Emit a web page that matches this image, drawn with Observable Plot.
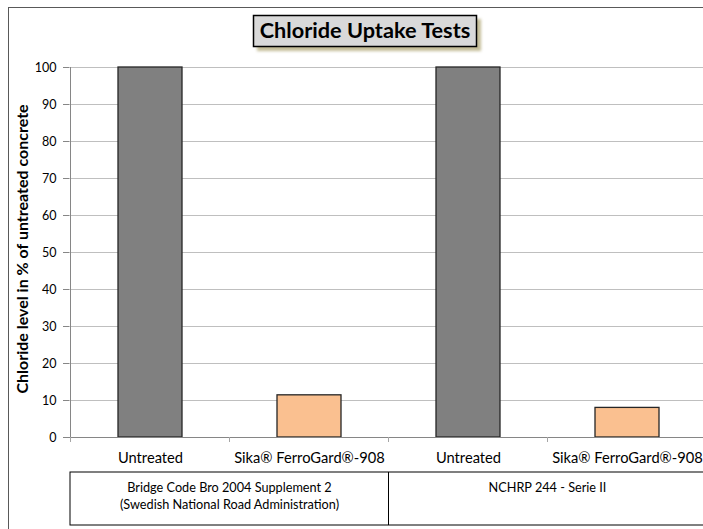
<!DOCTYPE html>
<html><head><meta charset="utf-8">
<script src="https://cdn.jsdelivr.net/npm/d3@7"></script>
<script src="https://cdn.jsdelivr.net/npm/@observablehq/plot@0.6"></script>
<style>
html,body{margin:0;padding:0;background:#fff;overflow:hidden;width:703px;height:529px;}
#chart{position:absolute;left:0;top:0;}
#chart svg{max-width:none !important;}
</style></head><body><div id="chart"></div>
<script>
// ---- data ----
const title = "Chloride Uptake Tests";
const yLabel = "Chloride level in % of untreated concrete";
const groups = ["Bridge Code Bro 2004 Supplement 2\n(Swedish National Road Administration)", "NCHRP 244 - Serie II"];
const treatments = ["Untreated", "Sika® FerroGard®-908"];
const broValues = [100, 11.4];
const nchrpValues = [100, 8];
const yTicks = [0, 10, 20, 30, 40, 50, 60, 70, 80, 90, 100];
const colors = ["#808080", "#fac090"];

const rows = [];
[broValues, nchrpValues].forEach((vals, g) =>
  vals.forEach((v, t) => rows.push({key: g + "|" + t, group: g, treatment: treatments[t], value: v})));
const keys = rows.map(d => d.key);

const FONT = "Lato, 'Open Sans', sans-serif";
const plot = Plot.plot({
  width: 707, height: 529,
  marginLeft: 69, marginRight: 0, marginTop: 67, marginBottom: 92,
  style: {fontFamily: FONT, fontSize: "12px", color: "#000", background: "transparent", overflow: "visible", maxWidth: "none"},
  x: {domain: keys, paddingInner: 0.6, paddingOuter: 0.3, axis: null},
  y: {domain: [0, 100], axis: null},
  color: {domain: treatments, range: colors},
  marks: [
    Plot.gridY(yTicks, {stroke: "#bfbfbf", strokeOpacity: 1}),
    Plot.axisY(yTicks, {tickSize: 6, tickPadding: 7, stroke: "#868686", fill: "#000", fontSize: 12.5, label: null}),
    Plot.axisX(keys, {tickSize: 0, tickPadding: 15, fill: "#000", fontSize: 14.7, label: null,
      tickFormat: k => treatments[+k.split("|")[1]]}),
    Plot.barY(rows, {x: "key", y: "value", fill: "treatment", stroke: "#262626", strokeWidth: 1.3}),
    Plot.ruleY([0], {stroke: "#868686"})
  ]
});
document.getElementById("chart").appendChild(plot);

// ---- decorations using the plot's own scales ----
const svg = d3.select(plot);
const xs = plot.scale("x"), ys = plot.scale("y");
const step = xs.step, bw = xs.bandwidth;
const bounds = keys.map(k => xs.apply(k) - (step - bw) / 2);
bounds.push(bounds[bounds.length - 1] + step);
const y0 = ys.apply(0), yTop = ys.apply(100);

// y axis line
svg.append("line").attr("x1", bounds[0]).attr("x2", bounds[0]).attr("y1", yTop).attr("y2", y0)
  .attr("stroke", "#868686");
// x axis ticks at category boundaries
bounds.forEach(b => svg.append("line").attr("x1", b).attr("x2", b).attr("y1", y0).attr("y2", y0 + 5)
  .attr("stroke", "#a6a6a6"));

// group box
const boxTop = y0 + 35, boxBot = y0 + 88;
svg.append("rect").attr("x", bounds[0] - 0.5).attr("y", boxTop).attr("width", bounds[4] - bounds[0] + 10)
  .attr("height", boxBot - boxTop).attr("fill", "none").attr("stroke", "#000");
svg.append("line").attr("x1", bounds[2]).attr("x2", bounds[2]).attr("y1", boxTop).attr("y2", boxBot)
  .attr("stroke", "#000");
groups.forEach((g, i) => {
  const cx = (bounds[i * 2] + bounds[i * 2 + 2]) / 2;
  g.split("\n").forEach((line, j) => svg.append("text").attr("x", cx).attr("y", boxTop + 17 + j * 17)
    .attr("text-anchor", "middle").attr("dominant-baseline", "middle")
    .attr("font-family", FONT).attr("font-size", 12.7).attr("fill", "#000").text(line));
});

// y label
svg.append("text").attr("transform", `translate(24,${(y0 + yTop) / 2 - 3}) rotate(-90)`)
  .attr("text-anchor", "middle").attr("dominant-baseline", "middle")
  .attr("font-family", FONT).attr("font-weight", "bold").attr("font-size", 16).attr("fill", "#000").text(yLabel);

// outer border
svg.append("rect").attr("x", 8.5).attr("y", 7.5).attr("width", 800).attr("height", 600)
  .attr("fill", "none").attr("stroke", "#595959");

// title box with shadow
const defs = svg.append("defs");
defs.append("filter").attr("id", "blur").append("feGaussianBlur").attr("stdDeviation", 1.5);
svg.append("rect").attr("x", 257).attr("y", 19).attr("width", 224).attr("height", 32)
  .attr("fill", "#c4bd97").attr("filter", "url(#blur)");
svg.append("rect").attr("x", 253.5).attr("y", 15.5).attr("width", 223).attr("height", 31)
  .attr("fill", "#d9d9d9").attr("stroke", "#000").attr("stroke-width", 1.5);
svg.append("text").attr("x", 365).attr("y", 32).attr("text-anchor", "middle").attr("dominant-baseline", "middle")
  .attr("font-family", FONT).attr("font-weight", "bold").attr("font-size", 21.7).attr("fill", "#000").text(title);
</script></body></html>
